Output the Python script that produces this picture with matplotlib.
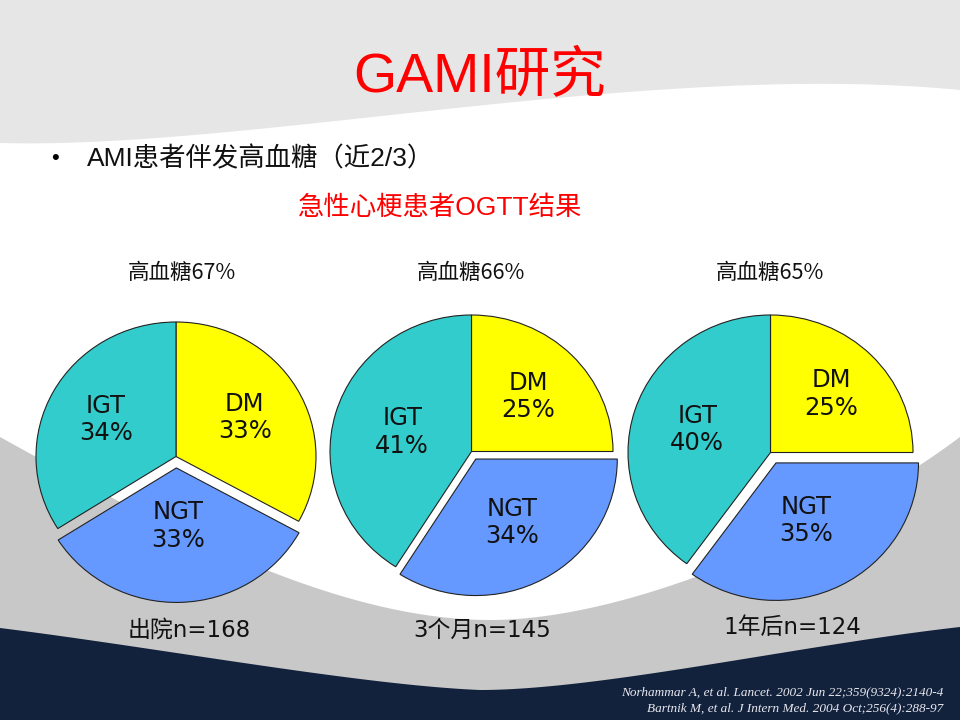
import numpy as np
import matplotlib.pyplot as plt

# data
groups = ['出院', '3个月', '1年后']
n_patients = [168, 145, 124]
hyperglycemia = [67, 66, 65]
slice_names = ['DM', 'NGT', 'IGT']
dm_pct = [33, 25, 25]
ngt_pct = [33, 34, 35]
igt_pct = [34, 41, 40]
citations = ['Norhammar A, et al. Lancet. 2002 Jun 22;359(9324):2140-4',
             'Bartnik M, et al. J Intern Med. 2004 Oct;256(4):288-97']

# layout / style
W, H = 960, 720
slice_colors = ['#FFFF00', '#6699FF', '#33CCCC']
pie_centers = [(176, 456.5), (471.5, 451.5), (770.5, 452.5)]
pie_rx = [140, 141.5, 142.5]
pie_ry = [134.5, 136.5, 137.5]
ngt_explode = [0.085, 0.063, 0.085]
label_dist = [[0.57, 0.43, 0.57], [0.57, 0.53, 0.51], [0.60, 0.47, 0.54]]
title_x = [182, 471, 770]
bottom_x = [189, 482, 792]
bottom_y = [630, 630, 627]
cjk = ['Liberation Sans', 'Noto Sans CJK SC']


def bez(p0, p1, p2, p3, n=80):
    t = np.linspace(0, 1, n)[:, None]
    p0, p1, p2, p3 = map(np.array, (p0, p1, p2, p3))
    return (1 - t)**3 * p0 + 3 * (1 - t)**2 * t * p1 + 3 * (1 - t) * t**2 * p2 + t**3 * p3


fig = plt.figure(figsize=(9.6, 7.2), dpi=100)
fig.patch.set_facecolor('white')
bg = fig.add_axes([0, 0, 1, 1])
bg.set_xlim(0, W)
bg.set_ylim(H, 0)
bg.axis('off')

# background swooshes
top = bez((0, 143), (250, 150), (650, 60), (960, 90))
poly = np.vstack([[(0, 0)], top, [(W, 0)]])
bg.fill(poly[:, 0], poly[:, 1], color='#e6e6e6', lw=0)

mid = np.vstack([bez((0, 437), (150, 520), (330, 620), (490, 620)),
                 bez((490, 620), (640, 620), (850, 520), (960, 437))])
poly = np.vstack([mid, [(W, H), (0, H)]])
bg.fill(poly[:, 0], poly[:, 1], color='#c8c8c8', lw=0)

low = np.vstack([bez((0, 628), (160, 648), (360, 685), (480, 690)),
                 bez((480, 690), (600, 690), (800, 645), (960, 627))])
poly = np.vstack([low, [(W, H), (0, H)]])
bg.fill(poly[:, 0], poly[:, 1], color='#13223c', lw=0)

# texts
bg.text(480, 92, 'GAMI研究', ha='center', va='baseline', fontsize=40,
        color='#ff0000', family=cjk)
bg.text(55, 158, '•', ha='center', va='center', fontsize=16, family='Liberation Sans')
bg.text(87, 166, 'AMI患者伴发高血糖（近2/3）', ha='left', va='baseline',
        fontsize=19, color='#111111', family=cjk)
bg.text(440, 208, '急性心梗患者OGTT结果', ha='center', va='center', fontsize=19,
        color='#ff0000', family=cjk)

for i in range(3):
    bg.text(title_x[i], 273, f'高血糖{hyperglycemia[i]}%', ha='center', va='center',
            fontsize=15.5, color='#111111', family=['Noto Sans CJK SC', 'DejaVu Sans'])
    bg.text(bottom_x[i], bottom_y[i], f'{groups[i]}n={n_patients[i]}', ha='center',
            va='center', fontsize=16.5, color='#111111',
            family=['DejaVu Sans', 'Noto Sans CJK SC'])

bg.text(943, 695, citations[0], ha='right', va='baseline', fontsize=9.5,
        style='italic', family='Liberation Serif', color='#e8e8f0')
bg.text(943, 711, citations[1], ha='right', va='baseline', fontsize=9.5,
        style='italic', family='Liberation Serif', color='#e8e8f0')

# pies (slightly flattened, like the slide)
for i in range(3):
    cx, cy = pie_centers[i]
    rx, ry = pie_rx[i], pie_ry[i]
    ax = fig.add_axes([(cx - 1.25 * rx) / W, (H - cy - 1.25 * ry) / H,
                       2.5 * rx / W, 2.5 * ry / H])
    vals = [dm_pct[i], ngt_pct[i], igt_pct[i]]
    labels = [f'{n}\n{v}%' for n, v in zip(slice_names, vals)]
    wedges, texts = ax.pie(vals, labels=labels, colors=slice_colors,
                           explode=[0, ngt_explode[i], 0], startangle=90,
                           counterclock=False, labeldistance=0.55,
                           wedgeprops=dict(edgecolor='#222222', linewidth=0.8),
                           textprops=dict(ha='center', va='center', fontsize=17.5,
                                          color='#111111', family='DejaVu Sans'))
    ax.set_aspect('auto')
    ax.set_xlim(-1.25, 1.25)
    ax.set_ylim(-1.25, 1.25)
    for w, t, d in zip(wedges, texts, label_dist[i]):
        ang = np.deg2rad((w.theta1 + w.theta2) / 2)
        t.set_position((w.center[0] + d * np.cos(ang), w.center[1] + d * np.sin(ang)))

fig.savefig('out.png', dpi=100)
